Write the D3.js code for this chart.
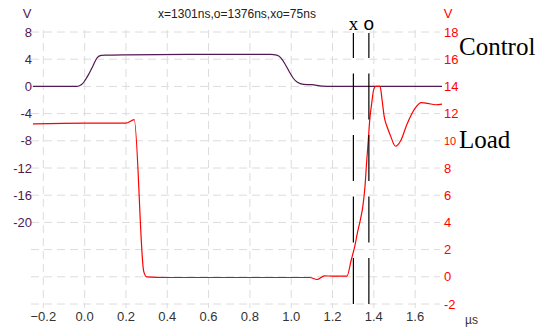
<!DOCTYPE html>
<html>
<head>
<meta charset="utf-8">
<script src="https://cdn.jsdelivr.net/npm/d3@7"></script>
<style>
  body { margin: 0; background: #fff; }
  svg { display: block; font-family: "Liberation Sans", Arial, sans-serif; }
</style>
</head>
<body>
<svg id="chart" width="545" height="331"></svg>
<script>
const svg = d3.select('#chart');

// time in µs
const xTicks = [-0.2, 0.0, 0.2, 0.4, 0.6, 0.8, 1.0, 1.2, 1.4, 1.6];
const leftTicks = [8, 4, 0, -4, -8, -12, -16, -20, -24, -28, -32];
const leftLabels = [8, 4, 0, -4, -8, -12, -16, -20];
const rightTicks = [18, 16, 14, 12, 10, 8, 6, 4, 2, 0, -2];

// Control trace (left axis, V)
const controlT = [-0.25, -0.04, -0.025, -0.01, 0.0, 0.02, 0.04, 0.06, 0.08, 0.1, 0.2, 0.5, 0.9, 0.93, 0.95, 0.97, 0.99, 1.01, 1.03, 1.06, 1.1, 1.15, 1.2, 1.73];
const controlV = [0, 0, 0.1, 0.4, 0.8, 1.8, 3.0, 4.2, 4.55, 4.6, 4.65, 4.7, 4.7, 4.6, 4.2, 3.3, 2.2, 1.2, 0.6, 0.3, 0.25, 0.05, 0.0, 0.0];

// Load trace (right axis, V)
const loadT = [-0.25, 0.0, 0.2, 0.24, 0.286, 0.3, 0.4, 0.6, 0.8, 1.0, 1.09, 1.125, 1.16, 1.2, 1.27, 1.29, 1.31, 1.32, 1.335, 1.347, 1.357, 1.365, 1.373, 1.38, 1.39, 1.40, 1.41, 1.43, 1.44, 1.45, 1.465, 1.48, 1.505, 1.53, 1.56, 1.6, 1.63, 1.66, 1.7, 1.73];
const loadV = [11.25, 11.3, 11.3, 11.55, 0.4, 0.0, -0.05, -0.05, -0.05, -0.05, -0.05, -0.2, 0.07, 0.05, 0.05, 1.2, 2.4, 3.2, 4.2, 5.2, 6.6, 8.4, 10.0, 11.5, 12.8, 13.8, 14.0, 14.0, 13.0, 11.8, 11.0, 10.4, 9.6, 10.0, 11.2, 12.4, 12.8, 12.75, 12.65, 12.7];

const cursors = [{ t: 1.301, label: 'x' }, { t: 1.376, label: 'o' }];
const title = 'x=1301ns,o=1376ns,xo=75ns';

const purple = '#521a52';
const red = '#ff0000';

const x = d3.scaleLinear().domain([-0.25, 1.73]).range([33, 442]);
const yL = d3.scaleLinear().domain([-32, 8]).range([304, 32]);
const yR = d3.scaleLinear().domain([-2, 18]).range([304, 32]);

// grid
svg.append('g')
  .selectAll('line')
  .data(leftTicks)
  .join('line')
  .attr('x1', 31).attr('x2', 440)
  .attr('y1', d => yL(d)).attr('y2', d => yL(d))
  .attr('stroke', '#dcdcdc')
  .attr('stroke-dasharray', '8,5');

svg.append('g')
  .selectAll('line')
  .data(xTicks)
  .join('line')
  .attr('x1', d => x(d)).attr('x2', d => x(d))
  .attr('y1', 30).attr('y2', 308)
  .attr('stroke', '#dcdcdc')
  .attr('stroke-dasharray', '8,5');

// x tick labels
svg.append('g')
  .selectAll('text')
  .data(xTicks)
  .join('text')
  .attr('x', d => x(d))
  .attr('y', 321)
  .attr('text-anchor', 'middle')
  .attr('font-size', 13)
  .attr('fill', '#333')
  .text(d => d3.format('.1f')(d));

svg.append('text')
  .attr('x', 465).attr('y', 324)
  .attr('font-size', 12).attr('fill', '#333')
  .text('µs');

// left axis labels
svg.append('g')
  .selectAll('text')
  .data(leftLabels)
  .join('text')
  .attr('x', 32)
  .attr('y', d => yL(d))
  .attr('dy', '0.35em')
  .attr('text-anchor', 'end')
  .attr('font-size', 13)
  .attr('fill', purple)
  .text(d => d);

svg.append('text')
  .attr('x', 27).attr('y', 18)
  .attr('text-anchor', 'middle')
  .attr('font-size', 13).attr('fill', purple)
  .text('V');

// right axis labels
svg.append('g')
  .selectAll('text')
  .data(rightTicks)
  .join('text')
  .attr('x', 444)
  .attr('y', d => yR(d))
  .attr('dy', '0.35em')
  .attr('font-size', d => d === 10 ? 11 : 13)
  .attr('fill', red)
  .text(d => d);

svg.append('text')
  .attr('x', 448).attr('y', 18)
  .attr('text-anchor', 'middle')
  .attr('font-size', 13).attr('fill', red)
  .text('V');

// title
svg.append('text')
  .attr('x', 237).attr('y', 18)
  .attr('text-anchor', 'middle')
  .attr('font-size', 12).attr('fill', '#222')
  .text(title);

// traces
const controlLine = d3.line()
  .x((d, i) => x(controlT[i]))
  .y(d => yL(d))
  .curve(d3.curveMonotoneX);

const loadLine = d3.line()
  .x((d, i) => x(loadT[i]))
  .y(d => yR(d))
  .curve(d3.curveMonotoneX);

svg.append('path')
  .attr('d', controlLine(controlV))
  .attr('fill', 'none')
  .attr('stroke', purple)
  .attr('stroke-width', 1.2);

svg.append('path')
  .attr('d', loadLine(loadV))
  .attr('fill', 'none')
  .attr('stroke', red)
  .attr('stroke-width', 1.2);

// cursors
const cur = svg.append('g')
  .selectAll('g')
  .data(cursors)
  .join('g');

cur.append('line')
  .attr('x1', d => x(d.t)).attr('x2', d => x(d.t))
  .attr('y1', 304).attr('y2', 33)
  .attr('stroke', '#000')
  .attr('stroke-width', 1.2)
  .attr('stroke-dasharray', '46,15.5');

cur.append('text')
  .attr('x', d => x(d.t))
  .attr('y', 30)
  .attr('text-anchor', 'middle')
  .attr('font-family', d => d.label === 'x' ? '"Liberation Serif", serif' : '"Liberation Sans", sans-serif')
  .attr('font-size', 19)
  .attr('fill', '#000')
  .text(d => d.label);

// series names
svg.append('text')
  .attr('x', 459).attr('y', 55)
  .attr('font-family', '"Liberation Serif", "Times New Roman", serif')
  .attr('font-size', 25).attr('fill', '#000')
  .text('Control');

svg.append('text')
  .attr('x', 459).attr('y', 148)
  .attr('font-family', '"Liberation Serif", "Times New Roman", serif')
  .attr('font-size', 25).attr('fill', '#000')
  .text('Load');
</script>
</body>
</html>
